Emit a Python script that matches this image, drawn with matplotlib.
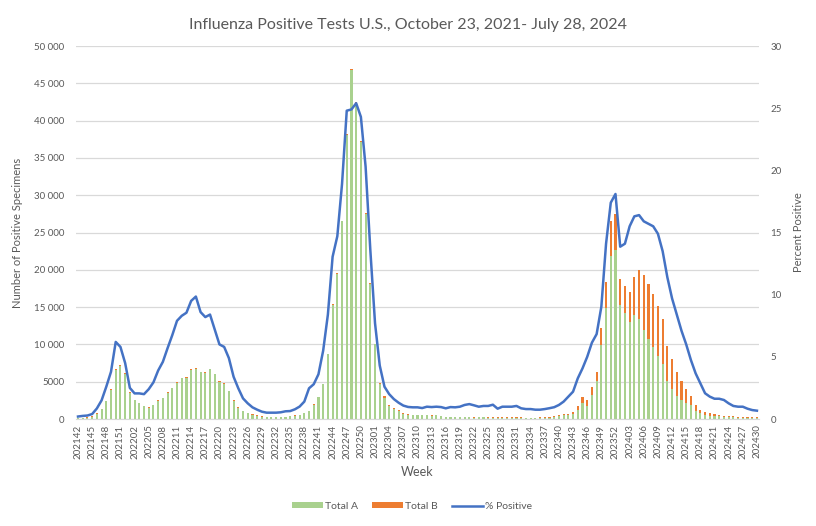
import matplotlib.pyplot as plt
import matplotlib.ticker as mticker
import numpy as np

plt.rcParams["font.family"] = ["Lato", "DejaVu Sans"]

# week codes 202142 .. 202430
weeks = (
    [f"2021{w:02d}" for w in range(42, 53)]
    + [f"2022{w:02d}" for w in range(1, 53)]
    + [f"2023{w:02d}" for w in range(1, 53)]
    + [f"2024{w:02d}" for w in range(1, 31)]
)

total_a = [
    100, 150, 200, 300, 700, 1300, 2350, 3900, 6600, 7150,
    6100, 3500, 2550, 2100, 1750, 1520, 1830, 2400, 2800, 3500,
    4150, 4850, 5450, 5520, 6600, 6750, 6300, 6200, 6700, 5980,
    5000, 4720, 3700, 2450, 1520, 1040, 770, 560, 470, 330,
    240, 230, 220, 240, 230, 380, 460, 520, 760, 1030,
    1920, 2900, 4700, 8700, 15300, 19500, 26550, 38100, 46800, 42400,
    37100, 27500, 18150, 10000, 4750, 2850, 1750, 1300, 1050, 640,
    570, 480, 480, 490, 490, 440, 490, 370, 240, 210,
    220, 210, 220, 210, 200, 210, 220, 200, 190, 180,
    190, 180, 180, 170, 170, 160, 160, 100, 160, 190,
    200, 280, 400, 560, 560, 700, 1200, 2185, 1740, 3210,
    5130, 9900, 14940, 21810, 22610, 15250, 14230, 13020, 13910, 13380,
    11910, 10700, 9680, 8430, 7360, 5100, 4050, 3120, 2540, 2100,
    1870, 1100, 800, 530, 450, 400, 350, 300, 270, 240,
    200, 180, 170, 170, 160,
]

total_b = [
    20, 20, 30, 40, 80, 60, 60, 120, 120, 60,
    80, 120, 60, 60, 60, 100, 50, 120, 60, 80,
    70, 120, 80, 80, 130, 100, 60, 120, 60, 60,
    100, 120, 60, 100, 100, 40, 40, 70, 70, 80,
    40, 50, 60, 40, 50, 70, 70, 60, 60, 60,
    40, 60, 60, 80, 110, 60, 60, 120, 110, 110,
    110, 60, 60, 120, 80, 200, 160, 160, 160, 130,
    100, 90, 90, 80, 80, 80, 80, 70, 60, 60,
    60, 60, 70, 60, 60, 70, 60, 60, 50, 50,
    50, 50, 40, 40, 40, 40, 40, 30, 60, 80,
    70, 120, 135, 110, 110, 280, 540, 805, 800, 1030,
    1160, 2320, 3440, 4730, 4910, 3570, 3570, 3970, 5130, 6560,
    7360, 7360, 7050, 6690, 6020, 4700, 3980, 3170, 2550, 1910,
    1210, 770, 450, 410, 310, 220, 185, 150, 130, 120,
    110, 90, 100, 100, 100,
]

pct_positive = [
    0.2, 0.25, 0.28, 0.4, 0.85, 1.5, 2.6, 3.8, 6.2, 5.8,
    4.5, 2.5, 2.06, 2.06, 2.0, 2.4, 2.95, 3.9, 4.6, 5.7,
    6.75, 7.9, 8.3, 8.55, 9.5, 9.85, 8.6, 8.2, 8.4, 7.2,
    6.0, 5.8, 4.9, 3.4, 2.47, 1.66, 1.26, 0.94, 0.75, 0.59,
    0.51, 0.51, 0.51, 0.54, 0.62, 0.64, 0.78, 1.0, 1.4, 2.47,
    2.8, 3.6, 5.5, 8.4, 13.05, 14.7, 18.9, 24.8, 24.9, 25.4,
    24.3, 20.3, 13.6, 7.7, 4.3, 2.6, 2.0, 1.6, 1.31, 1.08,
    0.97, 0.94, 0.94, 0.88, 0.99, 0.96, 0.99, 0.96, 0.86, 0.96,
    0.94, 0.99, 1.13, 1.2, 1.1, 0.99, 1.05, 1.05, 1.15, 0.83,
    0.99, 0.99, 0.99, 1.05, 0.86, 0.8, 0.8, 0.75, 0.75, 0.8,
    0.87, 0.95, 1.13, 1.4, 1.8, 2.2, 3.27, 4.07, 5.0, 6.14,
    6.83, 9.03, 14.1, 17.4, 18.1, 13.86, 14.1, 15.5, 16.3, 16.4,
    15.9, 15.7, 15.5, 14.9, 13.5, 11.4, 9.7, 8.4, 7.1, 6.0,
    4.74, 3.67, 2.87, 2.07, 1.8, 1.63, 1.63, 1.53, 1.26, 1.05,
    0.99, 0.99, 0.83, 0.72, 0.67,
]

GREEN = "#A9D18E"
ORANGE = "#ED7D31"
BLUE = "#4472C4"
GREY_TXT = "#595959"
GRID = "#D9D9D9"

x = np.arange(len(weeks))

fig = plt.figure(figsize=(8.16, 5.26), dpi=100)
ax = fig.add_axes([0.0927, 0.2034, 0.8378, 0.7091])
ax2 = ax.twinx()

ax.bar(x, total_a, width=0.45, color=GREEN, label="Total A", zorder=2)
ax.bar(x, total_b, width=0.45, bottom=total_a, color=ORANGE, label="Total B", zorder=2)
ax2.plot(x, pct_positive, color=BLUE, linewidth=1.8, label="% Positive")

ax.set_xlim(-0.5, len(weeks) - 0.5)
ax.set_ylim(0, 50000)
ax.set_yticks(np.arange(0, 50001, 5000))
ax.yaxis.set_major_formatter(
    mticker.FuncFormatter(lambda v, _: f"{int(v):,}".replace(",", " ") if v >= 10000 else f"{int(v)}")
)
ax2.set_ylim(0, 30)
ax2.set_yticks(np.arange(0, 31, 5))

ax.set_xticks(x[::3])
ax.set_xticklabels(weeks[::3], rotation=90, fontsize=7, color=GREY_TXT)
ax.tick_params(axis="y", labelsize=7, colors=GREY_TXT, length=0, pad=8)
ax2.tick_params(axis="y", labelsize=7, colors=GREY_TXT, length=0, pad=8)
ax.tick_params(axis="x", length=0, pad=4)

ax.grid(axis="y", color=GRID, linewidth=0.9, zorder=0)
ax.set_axisbelow(True)
for a in (ax, ax2):
    for s in a.spines.values():
        s.set_visible(False)
ax.spines["bottom"].set_visible(True)
ax.spines["bottom"].set_color(GRID)

ax.set_xlabel("Week", fontsize=9, color=GREY_TXT, labelpad=5)
ax.set_ylabel("Number of Positive Specimens", fontsize=8, color=GREY_TXT, labelpad=8)
ax2.set_ylabel("Percent Positive", fontsize=8, color=GREY_TXT, labelpad=8)

fig.suptitle(
    "Influenza Positive Tests U.S., October 23, 2021- July 28, 2024",
    fontsize=11.5,
    color=GREY_TXT,
    y=0.965,
)

h1, l1 = ax.get_legend_handles_labels()
h2, l2 = ax2.get_legend_handles_labels()
fig.legend(
    h1 + h2,
    l1 + l2,
    loc="center",
    bbox_to_anchor=(0.505, 0.037),
    ncol=3,
    frameon=False,
    fontsize=7.5,
    labelcolor=GREY_TXT,
    handlelength=3.0,
    handleheight=0.5,
    columnspacing=1.3,
    handletextpad=0.2,
)

fig.savefig("out.png", dpi=100)
